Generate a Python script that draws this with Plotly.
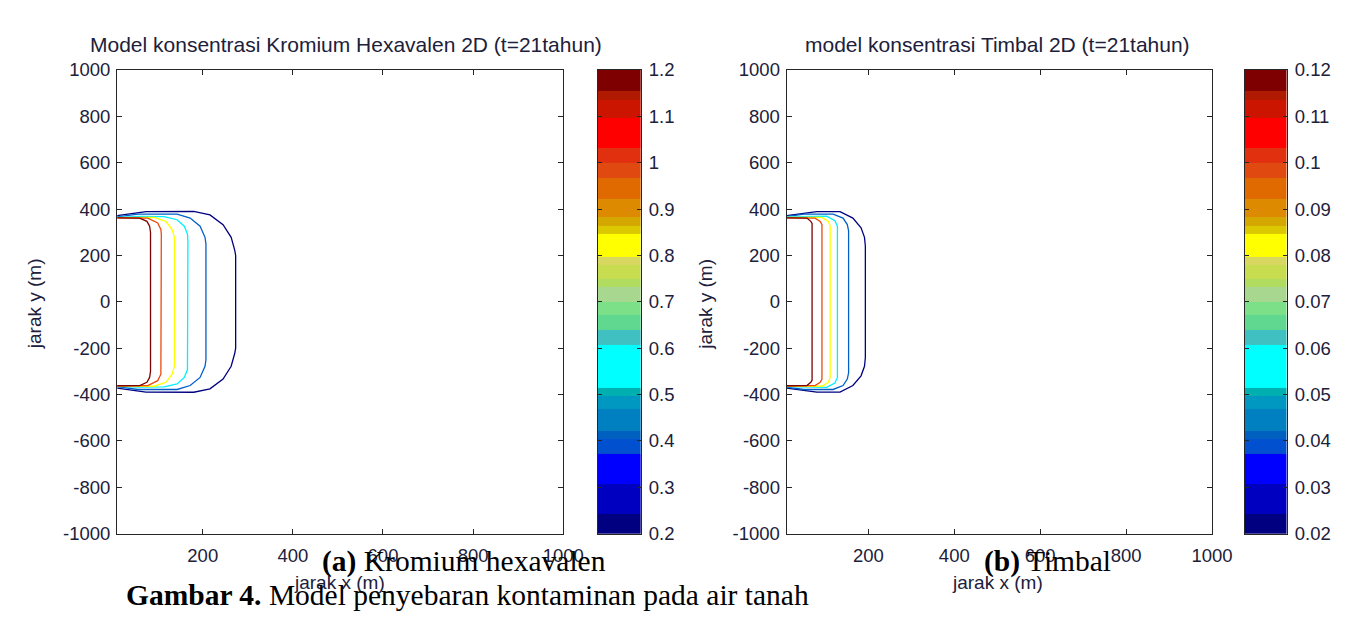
import plotly.graph_objects as go

W, H = 1367, 621

# ---------------- data ----------------
x_tickvals = [200, 400, 600, 800, 1000]
x_ticktext = ["200", "400", "600", "800", "1000"]
y_tickvals = [-1000, -800, -600, -400, -200, 0, 200, 400, 600, 800, 1000]
y_ticktext = ["-1000", "-800", "-600", "-400", "-200", "0", "200", "400", "600", "800", "1000"]

# contour levels (Kromium hexavalen / Timbal) and their line colours
cr_levels = [0.2, 0.4, 0.6, 0.8, 1.0, 1.2]
pb_levels = [0.02, 0.04, 0.06, 0.08, 0.10, 0.12]
level_colors = ["#000080", "#0060C8", "#00F0FF", "#FFFF00", "#E84A10", "#7F0000"]

# upper halves of the contour lines (symmetric about y = 0)
cr_contour_x = [
    [10, 30, 74, 180, 216, 245, 263, 271, 273, 273],
    [10, 56, 143, 172, 194, 205, 207, 207],
    [10, 60, 114, 143, 159, 166, 167, 167],
    [10, 92, 118, 132, 137, 137],
    [10, 78, 100, 107, 108, 108],
    [10, 60, 76, 82, 84, 84],
]
cr_contour_y = [
    [372, 378, 389, 390, 375, 333, 278, 222, 200, 0],
    [366, 378, 378, 361, 326, 278, 250, 0],
    [364, 368, 367, 354, 326, 292, 260, 0],
    [363, 364, 347, 312, 278, 0],
    [362, 361, 340, 312, 292, 0],
    [362, 361, 347, 326, 300, 0],
]
pb_contour_x = [
    [10, 40, 80, 134, 164, 183, 191, 193, 193],
    [10, 50, 118, 141, 151, 154, 154],
    [10, 103, 122, 128, 128, 128],
    [10, 92, 107, 111, 111],
    [10, 76, 88, 92, 92],
    [10, 57, 66, 69, 69],
]
pb_contour_y = [
    [372, 378, 389, 389, 361, 319, 278, 240, 0],
    [368, 378, 378, 361, 333, 306, 0],
    [366, 369, 350, 326, 300, 0],
    [364, 364, 347, 326, 0],
    [362, 361, 347, 333, 0],
    [362, 361, 347, 338, 0],
]

# colour-bar bands (Kromium scale), bottom to top
cbar_edges = [0.2, 0.243, 0.307, 0.371, 0.404, 0.421, 0.468, 0.496, 0.514, 0.607,
              0.639, 0.671, 0.70, 0.732, 0.75, 0.779, 0.796, 0.846, 0.864, 0.882,
              0.921, 0.968, 1.0, 1.032, 1.096, 1.136, 1.154, 1.2]
cbar_colors = ["#000080", "#0000C0", "#0000FF", "#0050D0", "#0060C0", "#0080C0",
               "#0098C0", "#00B0B0", "#00FFFF", "#40C0C0", "#60D890", "#7CE088",
               "#A8D890", "#B0DC60", "#C8DC50", "#D8D860", "#FFFF00", "#DCC800",
               "#D4A800", "#DD8A00", "#E06A00", "#E04A10", "#E03010", "#FF0000",
               "#CC1500", "#B01A00", "#7F0000"]
cr_cbar_ticks = [0.2, 0.3, 0.4, 0.5, 0.6, 0.7, 0.8, 0.9, 1.0, 1.1, 1.2]
cr_cbar_text = ["0.2", "0.3", "0.4", "0.5", "0.6", "0.7", "0.8", "0.9", "1", "1.1", "1.2"]
pb_cbar_ticks = [0.02, 0.03, 0.04, 0.05, 0.06, 0.07, 0.08, 0.09, 0.10, 0.11, 0.12]
pb_cbar_text = ["0.02", "0.03", "0.04", "0.05", "0.06", "0.07", "0.08", "0.09", "0.1", "0.11", "0.12"]
pb_scale = 0.1  # Timbal colour bar uses the same banding at one tenth of the values

# ---------------- helpers ----------------
def px(v):
    return v / W

def py(v):
    return 1 - v / H

TXT = "#20203a"
AX = "#262626"
SANS = "Liberation Sans, Arial, sans-serif"
SERIF = "Liberation Serif, Times New Roman, serif"

fig = go.Figure()

def add_contours(xs_list, ys_list, levels, xa, ya):
    for xs, ys, lev, col in zip(xs_list, ys_list, levels, level_colors):
        full_x = list(xs) + list(reversed(xs[:-1]))
        full_y = list(ys) + [-v for v in reversed(ys[:-1])]
        fig.add_trace(go.Scatter(x=full_x, y=full_y, mode="lines", name=str(lev),
                                 line=dict(color=col, width=1.3), hoverinfo="skip",
                                 showlegend=False, xaxis=xa, yaxis=ya))

def add_cbar(scale, xa, ya):
    n = len(cbar_colors)
    cs = []
    for i, c in enumerate(cbar_colors):
        cs.append([i / n, c])
        cs.append([(i + 1) / n, c])
    fig.add_trace(go.Heatmap(x=[0, 1], y=[e * scale for e in cbar_edges],
                             z=[[i + 0.5] for i in range(n)], zmin=0, zmax=n,
                             colorscale=cs, showscale=False, hoverinfo="skip",
                             xaxis=xa, yaxis=ya))

add_contours(cr_contour_x, cr_contour_y, cr_levels, "x", "y")
add_cbar(1.0, "x2", "y2")
add_contours(pb_contour_x, pb_contour_y, pb_levels, "x3", "y3")
add_cbar(pb_scale, "x4", "y4")

ydom = [py(541), py(61)]
main_common = dict(showline=True, linecolor=AX, linewidth=1.2, mirror="ticks",
                   ticks="inside", ticklen=5, tickcolor=AX, tickwidth=1,
                   showgrid=False, zeroline=False,
                   tickfont=dict(family=SANS, size=18.5, color=TXT))

def main_x(dom, anchor):
    return dict(domain=dom, anchor=anchor, range=[10, 1000], tickmode="array",
                tickvals=x_tickvals, ticktext=x_ticktext, ticklabelstandoff=5,
                **main_common)

def main_y(anchor):
    return dict(domain=ydom, anchor=anchor, range=[-1000, 1000], tickmode="array",
                tickvals=y_tickvals, ticktext=y_ticktext, ticklabelstandoff=2,
                **main_common)

def cb_x(dom, anchor):
    return dict(domain=dom, anchor=anchor, range=[0, 1], showline=True, linecolor=AX,
                linewidth=1.2, mirror=True, ticks="", showticklabels=False,
                showgrid=False, zeroline=False)

def cb_y(anchor, rng, tv, tt):
    return dict(domain=ydom, anchor=anchor, range=rng, side="right", tickmode="array",
                tickvals=tv, ticktext=tt, showline=True, linecolor=AX, linewidth=1.2,
                mirror="ticks", ticks="inside", ticklen=4, tickcolor=AX,
                showgrid=False, zeroline=False, ticklabelstandoff=3,
                tickfont=dict(family=SANS, size=18.5, color=TXT))

fig.update_layout(
    width=W, height=H, margin=dict(l=0, r=0, t=0, b=0),
    paper_bgcolor="white", plot_bgcolor="white", showlegend=False,
    xaxis=main_x([px(119), px(572)], "y"),
    yaxis=main_y("x"),
    xaxis2=cb_x([px(607), px(651)], "y2"),
    yaxis2=cb_y("x2", [0.2, 1.2], cr_cbar_ticks, cr_cbar_text),
    xaxis3=main_x([px(799), px(1231)], "y3"),
    yaxis3=main_y("x3"),
    xaxis4=cb_x([px(1264), px(1307)], "y4"),
    yaxis4=cb_y("x4", [0.02, 0.12], pb_cbar_ticks, pb_cbar_text),
)

def ann(text, x, y, size, family=SANS, color=TXT, angle=0):
    fig.add_annotation(text=text, x=px(x), y=py(y), xref="paper", yref="paper",
                       xanchor="center", yanchor="middle", showarrow=False,
                       textangle=angle, font=dict(family=family, size=size, color=color))

ann("Model konsentrasi Kromium Hexavalen 2D (t=21tahun)", 351, 35, 21)
ann("model konsentrasi Timbal 2D (t=21tahun)", 1013, 35, 21)
ann("jarak y (m)", 35, 303, 19, angle=-90)
ann("jarak y (m)", 717, 303, 19, angle=-90)
ann("jarak x (m)", 345, 591, 19)
ann("jarak x (m)", 1013, 591, 19)
ann("<b>(a)</b> Kromium hexavalen", 471, 570, 29.5, family=SERIF, color="#000000")
ann("<b>(b)</b> Timbal", 1064, 570, 29.5, family=SERIF, color="#000000")
ann("<b>Gambar 4.</b> Model penyebaran kontaminan pada air tanah", 475, 604, 29.5,
    family=SERIF, color="#000000")

fig.write_html("out.html")
